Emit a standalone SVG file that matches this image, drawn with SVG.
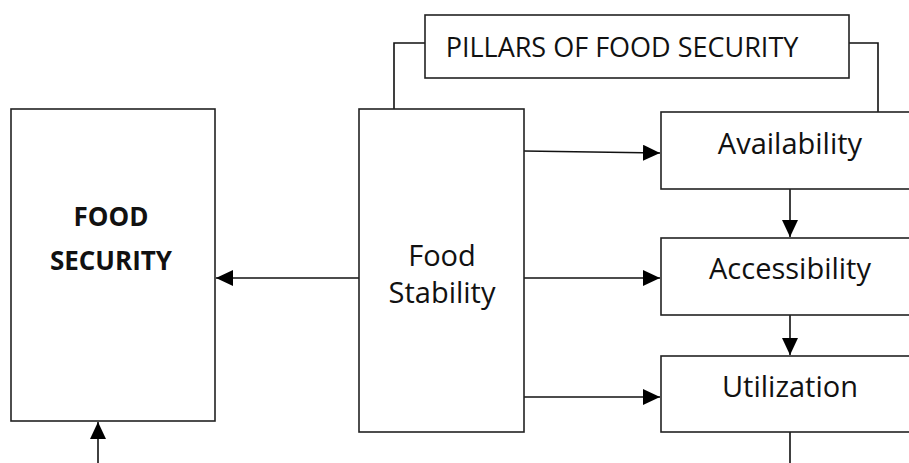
<svg xmlns="http://www.w3.org/2000/svg" width="909" height="463" viewBox="0 0 909 463">
<style>
.box{fill:#fff;stroke:#222;stroke-width:1.6}
.ln{fill:none;stroke:#111;stroke-width:1.6}
.t{font-family:"Open Sans","Liberation Sans",sans-serif;font-size:29px;fill:#111;text-anchor:middle}
.b{font-family:"Open Sans","Liberation Sans",sans-serif;font-size:26px;font-weight:bold;fill:#111;text-anchor:middle}
</style>
<defs>
<marker id="ah" viewBox="0 0 17 16" refX="17" refY="8" markerWidth="17" markerHeight="16" markerUnits="userSpaceOnUse" orient="auto">
<path d="M0,0 L17,8 L0,16 Z" fill="#000"/>
</marker>
</defs>
<rect width="909" height="463" fill="#fff"/>
<g id="connectors">
<polyline class="ln" points="425,43 394,43 394,109"/>
<polyline class="ln" points="849,43 878,43 878,112"/>
<line class="ln" x1="359" y1="278" x2="216" y2="278" marker-end="url(#ah)"/>
<line class="ln" x1="98" y1="463" x2="98" y2="422" marker-end="url(#ah)"/>
<line class="ln" x1="524" y1="151" x2="660" y2="153" marker-end="url(#ah)"/>
<line class="ln" x1="524" y1="278" x2="660" y2="278" marker-end="url(#ah)"/>
<line class="ln" x1="524" y1="397" x2="660" y2="397" marker-end="url(#ah)"/>
<line class="ln" x1="790" y1="189" x2="790" y2="237" marker-end="url(#ah)"/>
<line class="ln" x1="790" y1="315" x2="790" y2="355" marker-end="url(#ah)"/>
<line class="ln" x1="790" y1="432" x2="790" y2="463"/>
</g>
<g id="pillars">
<rect class="box" x="425" y="15" width="424" height="63"/>
<text class="t" x="622" y="57" style="font-size:27px">PILLARS OF FOOD SECURITY</text>
</g>
<g id="food-security">
<rect class="box" x="11" y="109" width="204" height="312"/>
<text class="b" x="111" y="226">FOOD</text>
<text class="b" x="111" y="270">SECURITY</text>
</g>
<g id="food-stability">
<rect class="box" x="359" y="109" width="165" height="323"/>
<text class="t" x="442" y="266">Food</text>
<text class="t" x="442" y="303">Stability</text>
</g>
<g id="availability">
<rect class="box" x="661" y="112" width="260" height="77"/>
<text class="t" x="790" y="154">Availability</text>
</g>
<g id="accessibility">
<rect class="box" x="661" y="238" width="260" height="77"/>
<text class="t" x="790" y="279">Accessibility</text>
</g>
<g id="utilization">
<rect class="box" x="661" y="356" width="260" height="76"/>
<text class="t" x="790" y="397">Utilization</text>
</g>
</svg>
